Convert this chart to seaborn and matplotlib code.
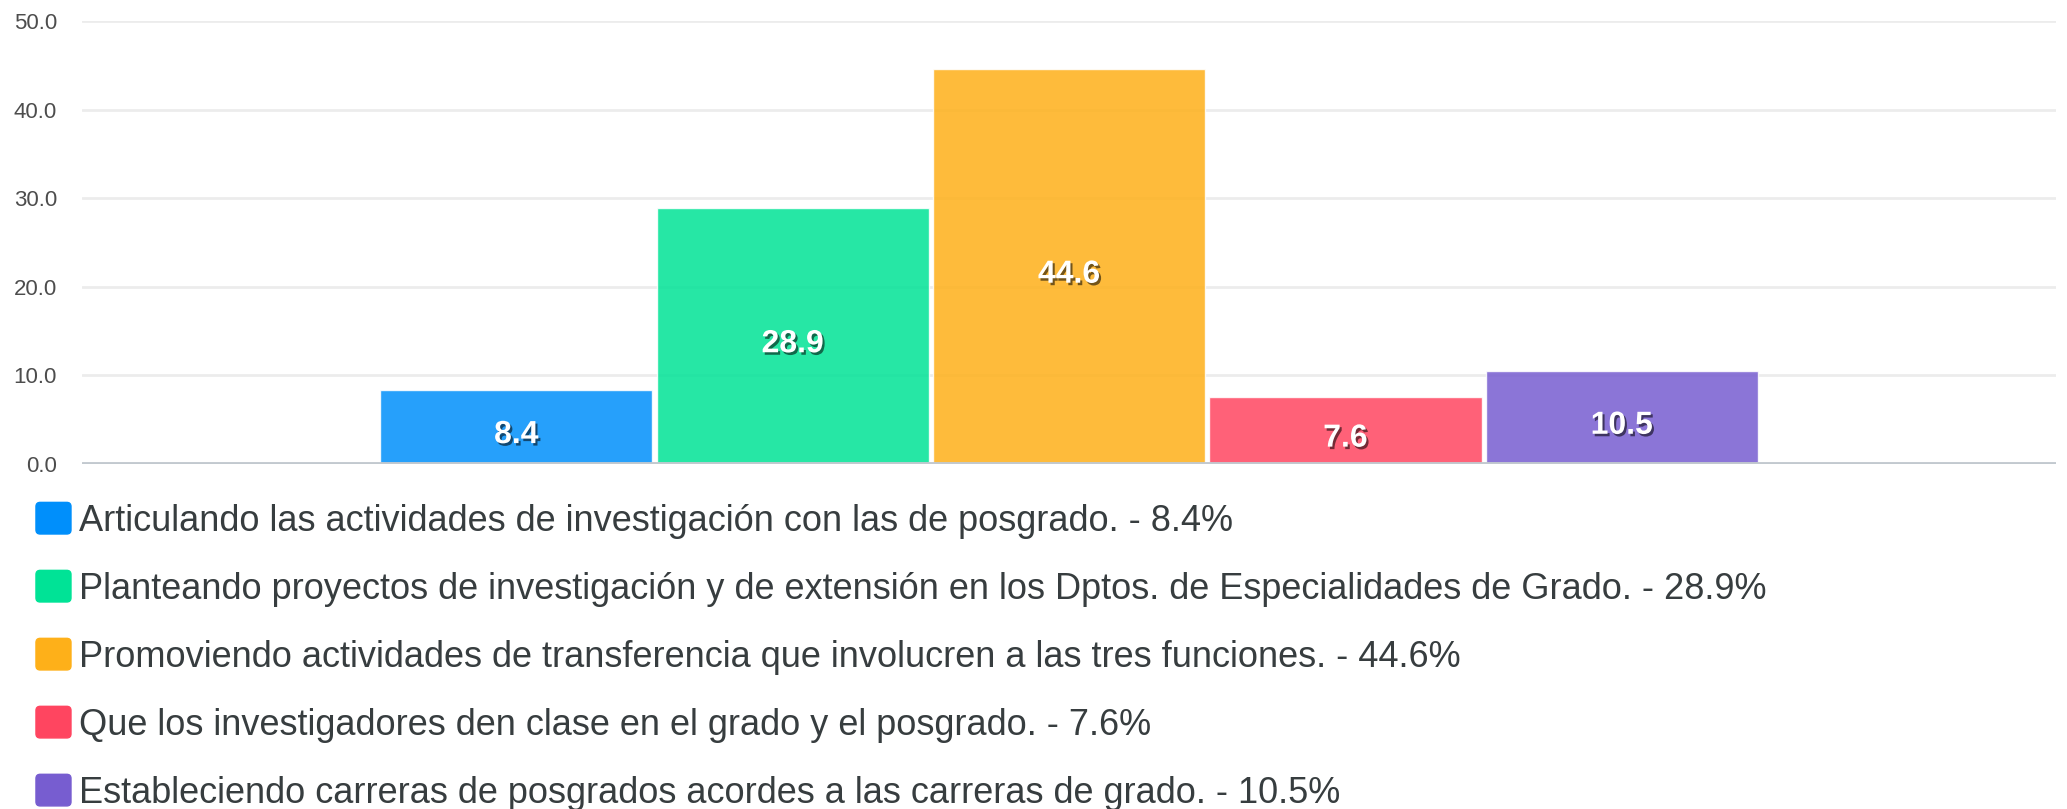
import matplotlib
matplotlib.use("Agg")
import pandas as pd
import matplotlib.pyplot as plt
import matplotlib.patheffects as pe
from matplotlib.patches import Patch, FancyBboxPatch
from matplotlib.legend_handler import HandlerPatch
import seaborn as sns

# datos
answers = [
    "Articulando las actividades de investigación con las de posgrado.",
    "Planteando proyectos de investigación y de extensión en los Dptos. de Especialidades de Grado.",
    "Promoviendo actividades de transferencia que involucren a las tres funciones.",
    "Que los investigadores den clase en el grado y el posgrado.",
    "Estableciendo carreras de posgrados acordes a las carreras de grado.",
]
percent = [8.4, 28.9, 44.6, 7.6, 10.5]
colors = ["#008FFB", "#00E396", "#FEB019", "#FF4560", "#775DD0"]
y_ticks = [0, 10, 20, 30, 40, 50]

df = pd.DataFrame({"grupo": "", "respuesta": answers, "pct": percent})

sns.set_theme(style="white")
plt.rcParams["font.family"] = ["Liberation Sans", "DejaVu Sans"]

fig = plt.figure(figsize=(20.67, 8.09), dpi=100)
ax = fig.add_axes([0.0397, 0.4265, 0.9550, 0.5476])

sns.barplot(df, x="grupo", y="pct", hue="respuesta", hue_order=answers,
            palette=colors, saturation=1, width=0.7, gap=0.015,
            alpha=0.85, legend=False, ax=ax, zorder=2)

ax.set_xlim(-0.5, 0.5)
ax.set_ylim(0, 50)
ax.set_yticks(y_ticks)
ax.set_yticklabels([f"{v:.1f}" for v in y_ticks])
ax.set_xticks([])
ax.set_xlabel("")
ax.set_ylabel("")
ax.tick_params(axis="y", length=0, pad=18, labelsize=16, labelcolor="#4d4d4d")
for s in ax.spines.values():
    s.set_visible(False)
# lineas de guia horizontales
for v in y_ticks[1:]:
    ax.axhline(v, color="#ececec", linewidth=2, zorder=0)
ax.axhline(0, color="#c2c9cf", linewidth=3.5, zorder=3)

shadow = [pe.withSimplePatchShadow(offset=(1.5, -1.8), shadow_rgbFace="black", alpha=0.55)]
for cont in ax.containers:
    for t in ax.bar_label(cont, fmt="{:.1f}", label_type="center", fontsize=23,
                          fontweight="bold", color="white", path_effects=shadow):
        t.xyann = (0, -6)


def rounded(legend, orig_handle, xdescent, ydescent, width, height, fontsize):
    return FancyBboxPatch((-xdescent, -ydescent), width, height,
                          boxstyle="round,pad=0,rounding_size=3")


handles = [Patch(color=c) for c in colors]
labels = [f"{a} - {p}%" for a, p in zip(answers, percent)]
fig.legend(handles, labels, loc="upper left", bbox_to_anchor=(0.0174, 0.379),
           frameon=False, fontsize=26, handlelength=0.97, handleheight=0.97,
           handletextpad=0.22, labelspacing=0.88, borderpad=0, borderaxespad=0,
           handler_map={Patch: HandlerPatch(patch_func=rounded)},
           labelcolor="#373d3f")

fig.savefig("out.png", dpi=100)
